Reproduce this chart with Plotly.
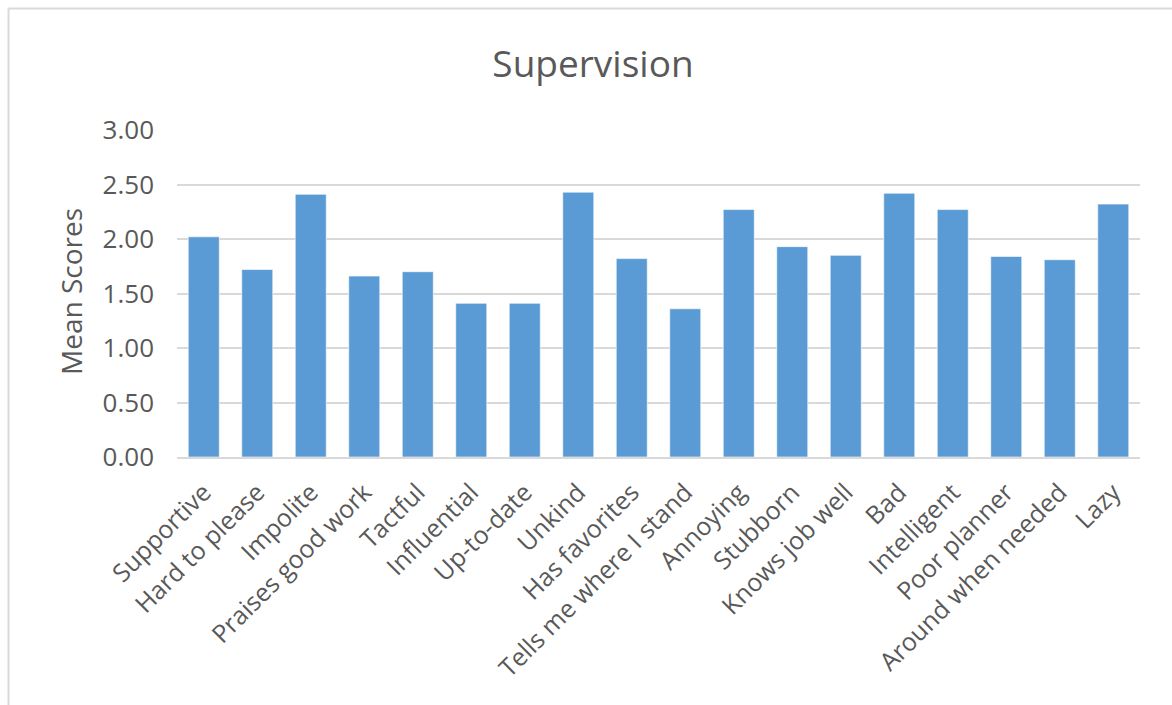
import plotly.graph_objects as go

categories = ["Supportive", "Hard to please", "Impolite", "Praises good work", "Tactful",
              "Influential", "Up-to-date", "Unkind", "Has favorites", "Tells me where I stand",
              "Annoying", "Stubborn", "Knows job well", "Bad", "Intelligent", "Poor planner",
              "Around when needed", "Lazy"]
mean_scores = [2.02, 1.72, 2.41, 1.66, 1.70, 1.41, 1.41, 2.43, 1.82, 1.36,
               2.27, 1.93, 1.85, 2.42, 2.27, 1.84, 1.81, 2.32]
y_ticks = [0, 0.5, 1.0, 1.5, 2.0, 2.5, 3.0]
y_tick_labels = ["0.00", "0.50", "1.00", "1.50", "2.00", "2.50", "3.00"]

W, H = 1172, 705
ML, MR, MT, MB = 177, 32, 130, 248
PW = W - ML - MR
PH = H - MT - MB

def px_x(x):
    return (x - ML) / PW

def px_y(y):
    return (H - MB - y) / PH

font_family = "Open Sans, Segoe UI, sans-serif"
text_color = "#595959"

fig = go.Figure(go.Bar(
    x=categories,
    y=mean_scores,
    marker=dict(color="#5B9BD5", line=dict(color="rgba(255,255,255,0.6)", width=1)),
))

fig.update_layout(
    width=W, height=H,
    margin=dict(l=ML, r=MR, t=MT, b=MB, autoexpand=False),
    paper_bgcolor="white",
    plot_bgcolor="white",
    bargap=0.42,
    showlegend=False,
    title=dict(text="Supervision", x=593 / W, xref="container", xanchor="center",
               y=1 - 64 / H, yref="container", yanchor="middle",
               font=dict(family=font_family, size=37, color=text_color)),
    font=dict(family=font_family, color=text_color),
    xaxis=dict(tickangle=-45, tickfont=dict(size=25, color=text_color),
               showline=True, linecolor="#D9D9D9", linewidth=1.5,
               showgrid=False, ticks="", automargin=False, ticklabelstandoff=9),
    yaxis=dict(range=[0, 3], tickvals=y_ticks, ticktext=y_tick_labels,
               tickfont=dict(size=26, color=text_color),
               showgrid=True, gridcolor="#D9D9D9", gridwidth=1.5,
               zeroline=False, showline=False, ticks="", ticklabelstandoff=22,
               automargin=False),
    annotations=[dict(text="Mean Scores", x=px_x(71), y=px_y(292), xref="paper", yref="paper",
                      textangle=-90, showarrow=False, xanchor="center", yanchor="middle",
                      font=dict(family=font_family, size=28, color=text_color))],
    shapes=[
        dict(type="line", xref="paper", yref="paper", x0=px_x(8.5), x1=px_x(1172),
             y0=px_y(8.5), y1=px_y(8.5), line=dict(color="#D9D9D9", width=2)),
        dict(type="line", xref="paper", yref="paper", x0=px_x(8.5), x1=px_x(8.5),
             y0=px_y(8.5), y1=px_y(705), line=dict(color="#D9D9D9", width=2)),
    ],
)

fig.write_html("out.html")
